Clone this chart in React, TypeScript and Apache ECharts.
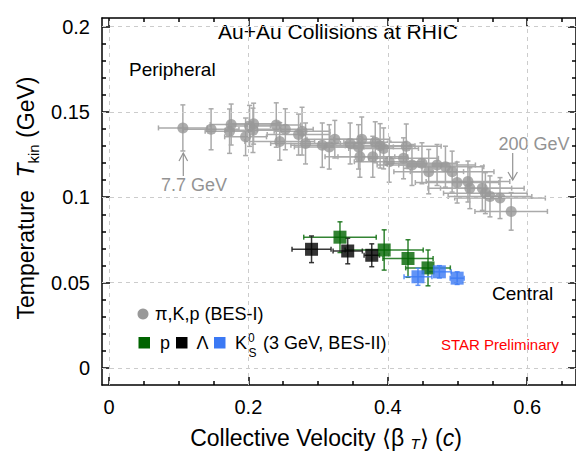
import React, { useEffect, useRef } from "react";
import * as echarts from "echarts";

// [ <beta_T>, T_kin, beta err, T err ]
const besIPoints: number[][] = [
  [0.106, 0.1406, 0.035, 0.0135],
  [0.1465, 0.1398, 0.04, 0.012],
  [0.1753, 0.1426, 0.03, 0.012],
  [0.173, 0.1387, 0.035, 0.013],
  [0.196, 0.1354, 0.03, 0.011],
  [0.2017, 0.1418, 0.03, 0.012],
  [0.2075, 0.1431, 0.035, 0.012],
  [0.2066, 0.1392, 0.04, 0.013],
  [0.24, 0.1423, 0.035, 0.013],
  [0.253, 0.1398, 0.04, 0.012],
  [0.245, 0.1327, 0.05, 0.011],
  [0.272, 0.1367, 0.045, 0.012],
  [0.277, 0.1387, 0.04, 0.014],
  [0.282, 0.1315, 0.05, 0.012],
  [0.306, 0.1305, 0.045, 0.013],
  [0.316, 0.1295, 0.05, 0.013],
  [0.324, 0.134, 0.04, 0.011],
  [0.346, 0.1315, 0.045, 0.012],
  [0.358, 0.1295, 0.05, 0.013],
  [0.3626, 0.134, 0.04, 0.013],
  [0.36, 0.1237, 0.05, 0.012],
  [0.382, 0.1322, 0.045, 0.012],
  [0.389, 0.1301, 0.05, 0.013],
  [0.3785, 0.1237, 0.05, 0.012],
  [0.394, 0.1286, 0.05, 0.012],
  [0.402, 0.1208, 0.05, 0.012],
  [0.4265, 0.1299, 0.05, 0.013],
  [0.4226, 0.1228, 0.05, 0.012],
  [0.4347, 0.1189, 0.05, 0.012],
  [0.449, 0.1199, 0.05, 0.012],
  [0.4587, 0.115, 0.05, 0.013],
  [0.4707, 0.1189, 0.055, 0.012],
  [0.4827, 0.1179, 0.055, 0.012],
  [0.4923, 0.115, 0.06, 0.012],
  [0.4995, 0.1086, 0.06, 0.012],
  [0.515, 0.1092, 0.06, 0.012],
  [0.5177, 0.1053, 0.06, 0.012],
  [0.5356, 0.1053, 0.06, 0.013],
  [0.54, 0.1024, 0.06, 0.012],
  [0.5466, 0.1005, 0.06, 0.012],
  [0.561, 0.0995, 0.065, 0.012],
  [0.577, 0.0917, 0.052, 0.011],
];

const protonPoints: number[][] = [
  [0.3314, 0.0766, 0.052, 0.009],
  [0.3948, 0.0691, 0.056, 0.0118],
  [0.429, 0.0641, 0.036, 0.011],
  [0.4577, 0.0586, 0.032, 0.0105],
];

const lambdaPoints: number[][] = [
  [0.2906, 0.0695, 0.028, 0.0078],
  [0.3425, 0.0685, 0.021, 0.0075],
  [0.377, 0.066, 0.011, 0.0067],
];

const k0sPoints: number[][] = [
  [0.4433, 0.0534, 0.02, 0.005],
  [0.474, 0.0563, 0.017, 0.0036],
  [0.4995, 0.0526, 0.01, 0.0037],
];

const xMajorTicks = [0, 0.2, 0.4, 0.6];
const xMinorTicks = [0.05, 0.1, 0.15, 0.25, 0.3, 0.35, 0.45, 0.5, 0.55, 0.65];
const yMajorTicks = [0, 0.05, 0.1, 0.15, 0.2];
const yMinorTicks = [
  0.01, 0.02, 0.03, 0.04, 0.06, 0.07, 0.08, 0.09, 0.11, 0.12, 0.13, 0.14,
  0.16, 0.17, 0.18, 0.19,
];

const FONT = '"Liberation Sans", Arial, Helvetica, sans-serif';
const X_MIN = -0.01;
const X_MAX = 0.67;
const Y_MIN = -0.01;
const Y_MAX = 0.205;

function fmt(v: number) {
  return String(Math.round(v * 1000) / 1000);
}

function errorBars(data: number[][], color: string, width: number, cap: number, opacity: number, z: number) {
  return {
    type: "custom",
    xAxisIndex: 0,
    yAxisIndex: 0,
    z,
    silent: true,
    clip: false,
    data,
    encode: { x: 0, y: 1 },
    renderItem: (_params: any, api: any) => {
      const x = api.value(0);
      const y = api.value(1);
      const ex = api.value(2);
      const ey = api.value(3);
      const l = api.coord([x - ex, y]);
      const r = api.coord([x + ex, y]);
      const t = api.coord([x, y + ey]);
      const b = api.coord([x, y - ey]);
      const style = { stroke: color, lineWidth: width, opacity };
      return {
        type: "group",
        children: [
          { type: "line", shape: { x1: l[0], y1: l[1], x2: r[0], y2: r[1] }, style },
          { type: "line", shape: { x1: l[0], y1: l[1] - cap, x2: l[0], y2: l[1] + cap }, style },
          { type: "line", shape: { x1: r[0], y1: r[1] - cap, x2: r[0], y2: r[1] + cap }, style },
          { type: "line", shape: { x1: t[0], y1: t[1], x2: b[0], y2: b[1] }, style },
          { type: "line", shape: { x1: t[0] - cap, y1: t[1], x2: t[0] + cap, y2: t[1] }, style },
          { type: "line", shape: { x1: b[0] - cap, y1: b[1], x2: b[0] + cap, y2: b[1] }, style },
        ],
      };
    },
  };
}

function xAxisDef(position: string, ticks: number[], len: number, showLine: boolean, showLabel: boolean) {
  return {
    type: "value",
    position,
    min: X_MIN,
    max: X_MAX,
    splitLine: { show: false },
    axisLine: { show: showLine, onZero: false, lineStyle: { color: "#000", width: 1.5 } },
    axisTick: { show: true, inside: true, length: len, customValues: ticks, lineStyle: { color: "#000", width: 1.5 } },
    axisLabel: {
      show: showLabel,
      customValues: ticks,
      formatter: (v: number) => fmt(v),
      color: "#000",
      fontSize: 20,
      fontFamily: FONT,
      margin: 12,
    },
  };
}

function yAxisDef(position: string, ticks: number[], len: number, showLine: boolean, showLabel: boolean) {
  return {
    type: "value",
    position,
    min: Y_MIN,
    max: Y_MAX,
    splitLine: { show: false },
    axisLine: { show: showLine, onZero: false, lineStyle: { color: "#000", width: 1.5 } },
    axisTick: { show: true, inside: true, length: len, customValues: ticks, lineStyle: { color: "#000", width: 1.5 } },
    axisLabel: {
      show: showLabel,
      customValues: ticks,
      formatter: (v: number) => fmt(v),
      color: "#000",
      fontSize: 20,
      fontFamily: FONT,
      margin: 12,
    },
  };
}

export default function App() {
  const ref = useRef<HTMLDivElement>(null);

  useEffect(() => {
    if (!ref.current) return;
    const chart = echarts.init(ref.current, undefined, { renderer: "svg" });
    const gray = "#939393";

    const option: any = {
      animation: false,
      backgroundColor: "#fff",
      grid: { left: 102, right: 0, top: 18, bottom: 78, containLabel: false },
      xAxis: [
        xAxisDef("bottom", xMajorTicks, 8, true, true),
        xAxisDef("bottom", xMinorTicks, 4, false, false),
        xAxisDef("top", xMajorTicks, 8, true, false),
        xAxisDef("top", xMinorTicks, 4, false, false),
      ],
      yAxis: [
        yAxisDef("left", yMajorTicks, 8, true, true),
        yAxisDef("left", yMinorTicks, 4, false, false),
        yAxisDef("right", yMajorTicks, 8, true, false),
        yAxisDef("right", yMinorTicks, 4, false, false),
      ],
      series: [
        {
          type: "scatter",
          xAxisIndex: 0,
          yAxisIndex: 0,
          data: [],
          z: 0,
          silent: true,
          markLine: {
            silent: true,
            symbol: "none",
            label: { show: false },
            lineStyle: { color: "#cccccc", width: 1, type: [4, 4] },
            data: [
              ...xMajorTicks.map((v) => ({ xAxis: v })),
              ...yMajorTicks.map((v) => ({ yAxis: v })),
            ],
          },
        },
        errorBars(besIPoints, "#aaaaaa", 1.5, 2.5, 1, 2),
        {
          type: "scatter",
          xAxisIndex: 0,
          yAxisIndex: 0,
          z: 3,
          symbol: "circle",
          symbolSize: 11,
          itemStyle: { color: "#999999" },
          data: besIPoints.map((p) => [p[0], p[1]]),
        },
        errorBars(protonPoints, "#0f6e0f", 1.5, 2.5, 0.85, 4),
        {
          type: "scatter",
          z: 5,
          symbol: "rect",
          symbolSize: 13,
          itemStyle: { color: "#006400" },
          data: protonPoints.map((p) => [p[0], p[1]]),
        },
        errorBars(lambdaPoints, "#222222", 1.5, 2.5, 0.9, 4),
        {
          type: "scatter",
          z: 5,
          symbol: "rect",
          symbolSize: 13,
          itemStyle: { color: "#000000" },
          data: lambdaPoints.map((p) => [p[0], p[1]]),
        },
        errorBars(k0sPoints, "#4d86f7", 1.5, 2.5, 0.9, 4),
        {
          type: "scatter",
          z: 6,
          symbol: "rect",
          symbolSize: 13,
          itemStyle: { color: "#3b79f4" },
          data: k0sPoints.map((p) => [p[0], p[1]]),
        },
      ],
      graphic: [
        {
          type: "text",
          x: 338,
          y: 31,
          style: { text: "Au+Au Collisions at RHIC", fill: "#000", fontSize: 21, fontFamily: FONT, align: "center", verticalAlign: "middle" },
        },
        {
          type: "text",
          x: 129,
          y: 69,
          style: { text: "Peripheral", fill: "#000", fontSize: 19, fontFamily: FONT, align: "left", verticalAlign: "middle" },
        },
        {
          type: "text",
          x: 492,
          y: 293,
          style: { text: "Central", fill: "#000", fontSize: 19, fontFamily: FONT, align: "left", verticalAlign: "middle" },
        },
        {
          type: "text",
          x: 559,
          y: 344,
          style: { text: "STAR Preliminary", fill: "#ff0000", fontSize: 15, fontFamily: FONT, align: "right", verticalAlign: "middle" },
        },
        {
          type: "text",
          x: 194,
          y: 185,
          style: { text: "7.7 GeV", fill: gray, fontSize: 18, fontFamily: FONT, align: "center", verticalAlign: "middle" },
        },
        {
          type: "polyline",
          shape: { points: [[183.3, 176], [183.3, 153]] },
          style: { stroke: gray, lineWidth: 1.2, fill: "none" },
        },
        {
          type: "polyline",
          shape: { points: [[179, 161], [183.3, 153], [187.6, 161]] },
          style: { stroke: gray, lineWidth: 1.2, fill: "none" },
        },
        {
          type: "text",
          x: 534,
          y: 144,
          style: { text: "200 GeV", fill: gray, fontSize: 18, fontFamily: FONT, align: "center", verticalAlign: "middle" },
        },
        {
          type: "polyline",
          shape: { points: [[512.7, 153], [512.7, 180]] },
          style: { stroke: gray, lineWidth: 1.2, fill: "none" },
        },
        {
          type: "polyline",
          shape: { points: [[508, 172], [512.7, 180], [517.4, 172]] },
          style: { stroke: gray, lineWidth: 1.2, fill: "none" },
        },
        // legend
        { type: "circle", shape: { cx: 143, cy: 314, r: 5.5 }, style: { fill: "#999999" } },
        {
          type: "text",
          x: 155,
          y: 314,
          style: { text: "π,K,p (BES-I)", fill: "#000", fontSize: 18, fontFamily: FONT, align: "left", verticalAlign: "middle" },
        },
        { type: "rect", shape: { x: 138.5, y: 337, width: 11.5, height: 11.5 }, style: { fill: "#006400" } },
        {
          type: "text",
          x: 160,
          y: 343,
          style: { text: "p", fill: "#000", fontSize: 18, fontFamily: FONT, align: "left", verticalAlign: "middle" },
        },
        { type: "rect", shape: { x: 176, y: 337, width: 11.5, height: 11.5 }, style: { fill: "#000000" } },
        {
          type: "text",
          x: 196.5,
          y: 343,
          style: { text: "Λ", fill: "#000", fontSize: 18, fontFamily: FONT, align: "left", verticalAlign: "middle" },
        },
        { type: "rect", shape: { x: 214, y: 337, width: 11.5, height: 11.5 }, style: { fill: "#3b79f4" } },
        {
          type: "text",
          x: 235,
          y: 343,
          style: { text: "K", fill: "#000", fontSize: 18, fontFamily: FONT, align: "left", verticalAlign: "middle" },
        },
        {
          type: "text",
          x: 248,
          y: 337.5,
          style: { text: "0", fill: "#000", fontSize: 12, fontFamily: FONT, align: "left", verticalAlign: "middle" },
        },
        {
          type: "text",
          x: 248.5,
          y: 353,
          style: { text: "S", fill: "#000", fontSize: 12, fontFamily: FONT, align: "left", verticalAlign: "middle" },
        },
        {
          type: "text",
          x: 263,
          y: 343,
          style: { text: "(3 GeV, BES-II)", fill: "#000", fontSize: 18, fontFamily: FONT, align: "left", verticalAlign: "middle" },
        },
        // axis titles
        {
          type: "text",
          x: 326,
          y: 438,
          style: {
            text: "{a|Collective Velocity ⟨β }{s|T}{a|⟩ (}{i|c}{a|)}",
            align: "center",
            verticalAlign: "middle",
            rich: {
              a: { fontSize: 23, fontFamily: FONT, fill: "#000", lineHeight: 26, verticalAlign: "middle" },
              i: { fontSize: 23, fontFamily: FONT, fill: "#000", fontStyle: "italic", lineHeight: 26, verticalAlign: "middle" },
              s: { fontSize: 15, fontFamily: FONT, fill: "#000", fontStyle: "italic", lineHeight: 14, verticalAlign: "bottom" },
            },
          },
        },
        {
          type: "text",
          x: 26,
          y: 198,
          rotation: Math.PI / 2,
          style: {
            text: "{a|Temperature  }{i|T}{s|kin}{a| (GeV)}",
            align: "center",
            verticalAlign: "middle",
            rich: {
              a: { fontSize: 23, fontFamily: FONT, fill: "#000", lineHeight: 30, verticalAlign: "middle" },
              i: { fontSize: 23, fontFamily: FONT, fill: "#000", fontStyle: "italic", lineHeight: 30, verticalAlign: "middle" },
              s: { fontSize: 15, fontFamily: FONT, fill: "#000", lineHeight: 16, verticalAlign: "bottom" },
            },
          },
        },
      ],
    };

    chart.setOption(option);
    return () => chart.dispose();
  }, []);

  return (
    <div
      ref={ref}
      style={{ position: "fixed", left: 0, top: 0, width: 576, height: 463, background: "#fff" }}
    />
  );
}
